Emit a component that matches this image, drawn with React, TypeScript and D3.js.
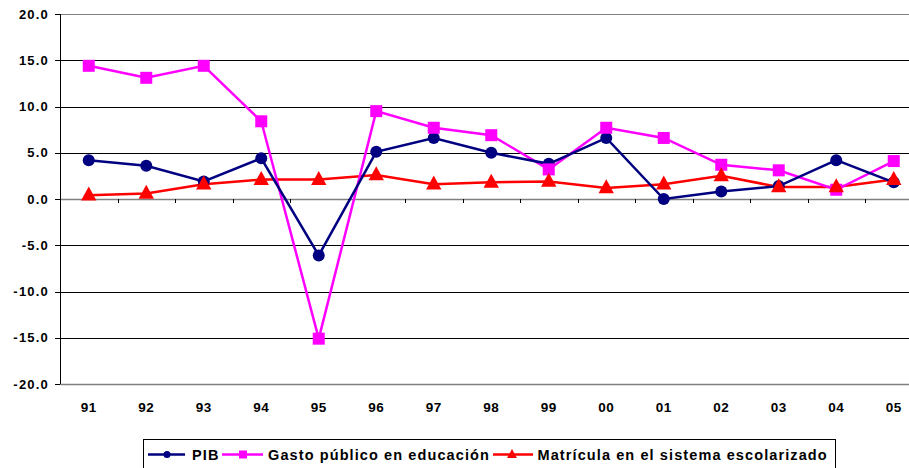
import React from "react";
import * as d3 from "d3";

const categories = ["91","92","93","94","95","96","97","98","99","00","01","02","03","04","05"];
const pib = [4.2, 3.6, 1.9, 4.4, -6.1, 5.1, 6.6, 5.0, 3.8, 6.6, 0.0, 0.8, 1.4, 4.2, 1.8];
const gasto = [14.4, 13.1, 14.4, 8.4, -15.1, 9.5, 7.7, 6.9, 3.2, 7.7, 6.6, 3.7, 3.1, 1.0, 4.1];
const matricula = [0.4, 0.6, 1.6, 2.1, 2.1, 2.6, 1.6, 1.8, 1.9, 1.2, 1.6, 2.5, 1.3, 1.3, 2.1];
const yTicks = [20, 15, 10, 5, 0, -5, -10, -15, -20];
const seriesNames = ["PIB", "Gasto público en educación", "Matrícula en el sistema escolarizado"];

const W = 909, H = 468;
const FONT = "'Liberation Sans', Arial, sans-serif";

export default function App() {
  const x = d3.scaleBand<string>().domain(categories).range([60, 60 + 15 * 57.5]);
  const y = d3.scaleLinear().domain([-20, 20]).range([384, 14]);
  const cx = (c: string) => (x(c) as number) + x.bandwidth() / 2;
  const line = d3.line<[string, number]>().x(d => cx(d[0])).y(d => y(d[1]));
  const zip = (vals: number[]) => categories.map((c, i) => [c, vals[i]] as [string, number]);

  const tri = (px: number, py: number, s: number) =>
    `M${px},${py - s * 0.62}L${px + s * 0.55},${py + s * 0.38}L${px - s * 0.55},${py + s * 0.38}Z`;

  const navy = "#000080", mag = "#FF00FF", red = "#FF0000";
  const ly = 454.5;

  return (
    <svg width={W} height={H} style={{ position: "absolute", left: 0, top: 0, background: "#fff" }}
      fontFamily={FONT}>
      <rect width={W} height={H} fill="#fff" />
      {yTicks.map(t => (
        <line key={t} x1={60} x2={W} y1={Math.round(y(t)) + 0.5} y2={Math.round(y(t)) + 0.5}
          stroke={t === 0 || t === -20 || t === 20 ? "#808080" : "#000"} strokeWidth={t === 0 || t === -20 ? 1.5 : 1} />
      ))}
      {yTicks.map(t => (
        <g key={"l" + t}>
          <line x1={55} x2={60} y1={Math.round(y(t)) + 0.5} y2={Math.round(y(t)) + 0.5} stroke="#000" />
          <text x={49} y={y(t)} dy="0.35em" textAnchor="end" fontSize={13} fontWeight="bold" letterSpacing={1.2}>{t.toFixed(1)}</text>
        </g>
      ))}
      <line x1={60.5} x2={60.5} y1={14} y2={384} stroke="#000" />
      {categories.map((c, i) => (
        <line key={"t" + c} x1={Math.round(x(c) as number) + 0.5} x2={Math.round(x(c) as number) + 0.5}
          y1={y(0)} y2={y(0) + 4} stroke="#000" />
      ))}
      {categories.map(c => (
        <text key={"x" + c} x={cx(c)} y={407} dy="0.35em" textAnchor="middle" fontSize={13.5} fontWeight="bold" letterSpacing={0.6}>{c}</text>
      ))}

      <path d={line(zip(matricula)) || ""} fill="none" stroke={red} strokeWidth={2.5} />
      <path d={line(zip(gasto)) || ""} fill="none" stroke={mag} strokeWidth={2.5} />
      <path d={line(zip(pib)) || ""} fill="none" stroke={navy} strokeWidth={2.5} />

      {zip(pib).map(d => <circle key={"p" + d[0]} cx={cx(d[0])} cy={y(d[1])} r={6} fill={navy} />)}
      {zip(gasto).map(d => <rect key={"g" + d[0]} x={cx(d[0]) - 6} y={y(d[1]) - 6} width={12} height={12} fill={mag} />)}
      {zip(matricula).map(d => <path key={"m" + d[0]} d={tri(cx(d[0]), y(d[1]), 14)} fill={red} />)}

      <rect x={143.5} y={439.5} width={692} height={40} fill="#fff" stroke="#000" />
      <g fontSize={14.5} fontWeight="bold" letterSpacing={1.1}>
        <line x1={148} x2={185} y1={ly} y2={ly} stroke={navy} strokeWidth={2.5} />
        <circle cx={167} cy={ly} r={3.5} fill={navy} />
        <text x={192} y={ly} dy="0.35em">{seriesNames[0]}</text>
        <line x1={222} x2={263} y1={ly} y2={ly} stroke={mag} strokeWidth={2.5} />
        <rect x={239} y={ly - 4} width={8} height={8} fill={mag} />
        <text x={268} y={ly} dy="0.35em">{seriesNames[1]}</text>
        <line x1={493} x2={533} y1={ly} y2={ly} stroke={red} strokeWidth={2.5} />
        <path d={tri(512, ly, 9)} fill={red} />
        <text x={537.5} y={ly} dy="0.35em">{seriesNames[2]}</text>
      </g>
    </svg>
  );
}
